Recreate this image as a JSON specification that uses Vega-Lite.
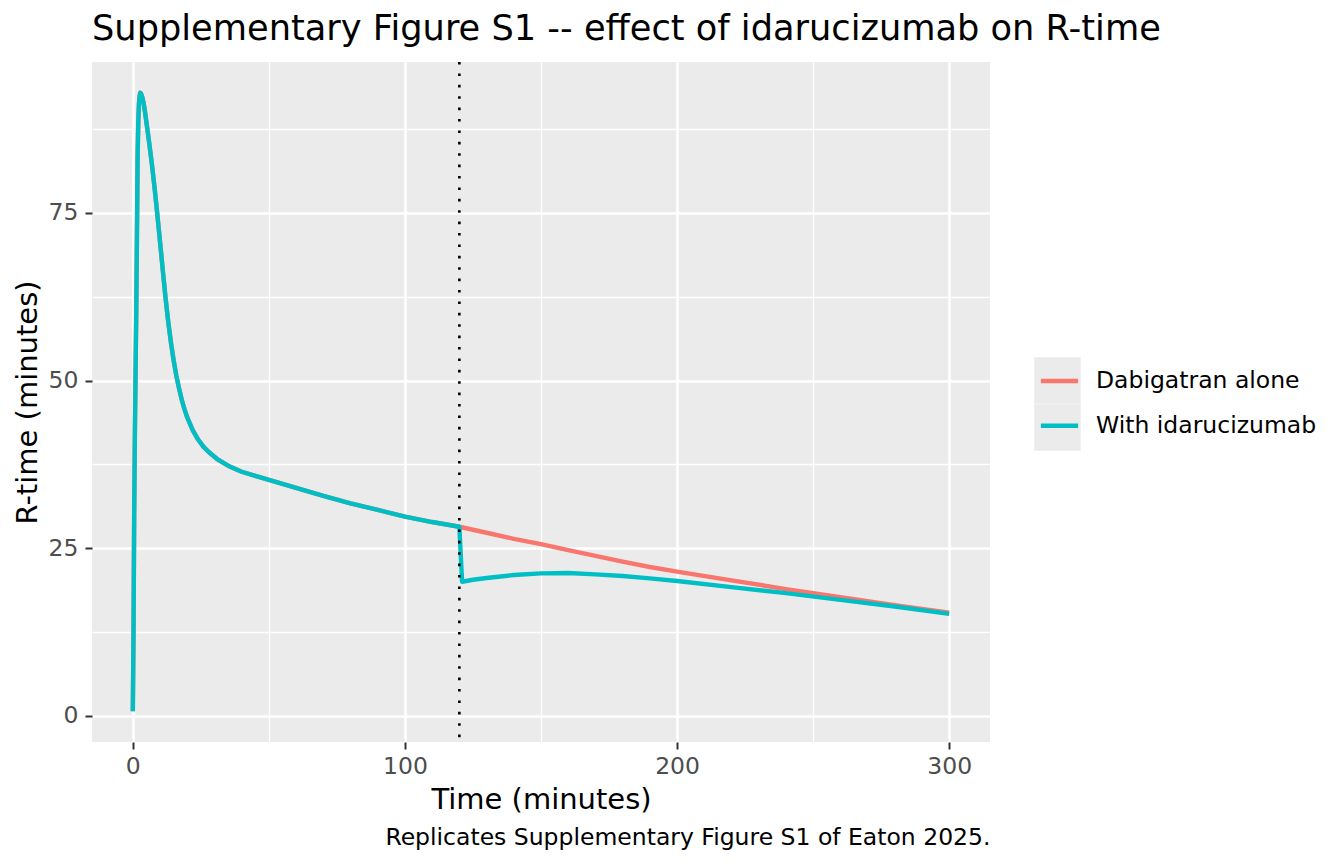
{
  "$schema": "https://vega.github.io/schema/vega-lite/v6.json",
  "width": 898,
  "height": 680,
  "autosize": "none",
  "padding": {"left": 92, "top": 62, "right": 354, "bottom": 122},
  "background": "white",
  "config": {
    "font": "DejaVu Sans",
    "view": {"fill": "#EBEBEB", "stroke": null}
  },
  "title": {
    "text": "Supplementary Figure S1 -- effect of idarucizumab on R-time",
    "anchor": "start",
    "frame": "group",
    "font": "DejaVu Sans",
    "fontSize": 35.2,
    "fontWeight": "normal",
    "color": "black",
    "baseline": "alphabetic",
    "offset": -14
  },
  "datasets": {
    "curves": [
      {"t": 0, "rtime": 0.7, "series": "Dabigatran alone"},
      {"t": 0.25, "rtime": 12, "series": "Dabigatran alone"},
      {"t": 0.5, "rtime": 30, "series": "Dabigatran alone"},
      {"t": 0.75, "rtime": 42, "series": "Dabigatran alone"},
      {"t": 1, "rtime": 51, "series": "Dabigatran alone"},
      {"t": 1.25, "rtime": 60, "series": "Dabigatran alone"},
      {"t": 1.5, "rtime": 71, "series": "Dabigatran alone"},
      {"t": 1.75, "rtime": 83, "series": "Dabigatran alone"},
      {"t": 2, "rtime": 88.5, "series": "Dabigatran alone"},
      {"t": 2.25, "rtime": 91.2, "series": "Dabigatran alone"},
      {"t": 2.5, "rtime": 92.4, "series": "Dabigatran alone"},
      {"t": 2.75, "rtime": 92.9, "series": "Dabigatran alone"},
      {"t": 3, "rtime": 92.8, "series": "Dabigatran alone"},
      {"t": 3.5, "rtime": 92.2, "series": "Dabigatran alone"},
      {"t": 4, "rtime": 91.3, "series": "Dabigatran alone"},
      {"t": 4.5, "rtime": 90.0, "series": "Dabigatran alone"},
      {"t": 5, "rtime": 88.5, "series": "Dabigatran alone"},
      {"t": 6, "rtime": 85.5, "series": "Dabigatran alone"},
      {"t": 7, "rtime": 82.3, "series": "Dabigatran alone"},
      {"t": 8, "rtime": 78.7, "series": "Dabigatran alone"},
      {"t": 9, "rtime": 74.8, "series": "Dabigatran alone"},
      {"t": 10, "rtime": 70.7, "series": "Dabigatran alone"},
      {"t": 11, "rtime": 66.5, "series": "Dabigatran alone"},
      {"t": 12, "rtime": 62.4, "series": "Dabigatran alone"},
      {"t": 13, "rtime": 58.8, "series": "Dabigatran alone"},
      {"t": 14, "rtime": 55.7, "series": "Dabigatran alone"},
      {"t": 15, "rtime": 53.0, "series": "Dabigatran alone"},
      {"t": 16, "rtime": 50.7, "series": "Dabigatran alone"},
      {"t": 17, "rtime": 48.8, "series": "Dabigatran alone"},
      {"t": 18, "rtime": 47.1, "series": "Dabigatran alone"},
      {"t": 19, "rtime": 45.7, "series": "Dabigatran alone"},
      {"t": 20, "rtime": 44.5, "series": "Dabigatran alone"},
      {"t": 22, "rtime": 42.6, "series": "Dabigatran alone"},
      {"t": 24, "rtime": 41.2, "series": "Dabigatran alone"},
      {"t": 26, "rtime": 40.1, "series": "Dabigatran alone"},
      {"t": 28, "rtime": 39.3, "series": "Dabigatran alone"},
      {"t": 31, "rtime": 38.3, "series": "Dabigatran alone"},
      {"t": 35, "rtime": 37.3, "series": "Dabigatran alone"},
      {"t": 40, "rtime": 36.4, "series": "Dabigatran alone"},
      {"t": 45, "rtime": 35.8, "series": "Dabigatran alone"},
      {"t": 50, "rtime": 35.2, "series": "Dabigatran alone"},
      {"t": 60, "rtime": 34.0, "series": "Dabigatran alone"},
      {"t": 70, "rtime": 32.8, "series": "Dabigatran alone"},
      {"t": 80, "rtime": 31.7, "series": "Dabigatran alone"},
      {"t": 90, "rtime": 30.7, "series": "Dabigatran alone"},
      {"t": 100, "rtime": 29.7, "series": "Dabigatran alone"},
      {"t": 110, "rtime": 28.9, "series": "Dabigatran alone"},
      {"t": 120, "rtime": 28.2, "series": "Dabigatran alone"},
      {"t": 130, "rtime": 27.3, "series": "Dabigatran alone"},
      {"t": 140, "rtime": 26.4, "series": "Dabigatran alone"},
      {"t": 150, "rtime": 25.6, "series": "Dabigatran alone"},
      {"t": 160, "rtime": 24.7, "series": "Dabigatran alone"},
      {"t": 170, "rtime": 23.85, "series": "Dabigatran alone"},
      {"t": 180, "rtime": 23.0, "series": "Dabigatran alone"},
      {"t": 190, "rtime": 22.2, "series": "Dabigatran alone"},
      {"t": 200, "rtime": 21.5, "series": "Dabigatran alone"},
      {"t": 220, "rtime": 20.2, "series": "Dabigatran alone"},
      {"t": 240, "rtime": 18.9, "series": "Dabigatran alone"},
      {"t": 260, "rtime": 17.7, "series": "Dabigatran alone"},
      {"t": 280, "rtime": 16.5, "series": "Dabigatran alone"},
      {"t": 300, "rtime": 15.4, "series": "Dabigatran alone"},
      {"t": 0, "rtime": 0.7, "series": "With idarucizumab"},
      {"t": 0.25, "rtime": 12, "series": "With idarucizumab"},
      {"t": 0.5, "rtime": 30, "series": "With idarucizumab"},
      {"t": 0.75, "rtime": 42, "series": "With idarucizumab"},
      {"t": 1, "rtime": 51, "series": "With idarucizumab"},
      {"t": 1.25, "rtime": 60, "series": "With idarucizumab"},
      {"t": 1.5, "rtime": 71, "series": "With idarucizumab"},
      {"t": 1.75, "rtime": 83, "series": "With idarucizumab"},
      {"t": 2, "rtime": 88.5, "series": "With idarucizumab"},
      {"t": 2.25, "rtime": 91.2, "series": "With idarucizumab"},
      {"t": 2.5, "rtime": 92.4, "series": "With idarucizumab"},
      {"t": 2.75, "rtime": 92.9, "series": "With idarucizumab"},
      {"t": 3, "rtime": 92.8, "series": "With idarucizumab"},
      {"t": 3.5, "rtime": 92.2, "series": "With idarucizumab"},
      {"t": 4, "rtime": 91.3, "series": "With idarucizumab"},
      {"t": 4.5, "rtime": 90.0, "series": "With idarucizumab"},
      {"t": 5, "rtime": 88.5, "series": "With idarucizumab"},
      {"t": 6, "rtime": 85.5, "series": "With idarucizumab"},
      {"t": 7, "rtime": 82.3, "series": "With idarucizumab"},
      {"t": 8, "rtime": 78.7, "series": "With idarucizumab"},
      {"t": 9, "rtime": 74.8, "series": "With idarucizumab"},
      {"t": 10, "rtime": 70.7, "series": "With idarucizumab"},
      {"t": 11, "rtime": 66.5, "series": "With idarucizumab"},
      {"t": 12, "rtime": 62.4, "series": "With idarucizumab"},
      {"t": 13, "rtime": 58.8, "series": "With idarucizumab"},
      {"t": 14, "rtime": 55.7, "series": "With idarucizumab"},
      {"t": 15, "rtime": 53.0, "series": "With idarucizumab"},
      {"t": 16, "rtime": 50.7, "series": "With idarucizumab"},
      {"t": 17, "rtime": 48.8, "series": "With idarucizumab"},
      {"t": 18, "rtime": 47.1, "series": "With idarucizumab"},
      {"t": 19, "rtime": 45.7, "series": "With idarucizumab"},
      {"t": 20, "rtime": 44.5, "series": "With idarucizumab"},
      {"t": 22, "rtime": 42.6, "series": "With idarucizumab"},
      {"t": 24, "rtime": 41.2, "series": "With idarucizumab"},
      {"t": 26, "rtime": 40.1, "series": "With idarucizumab"},
      {"t": 28, "rtime": 39.3, "series": "With idarucizumab"},
      {"t": 31, "rtime": 38.3, "series": "With idarucizumab"},
      {"t": 35, "rtime": 37.3, "series": "With idarucizumab"},
      {"t": 40, "rtime": 36.4, "series": "With idarucizumab"},
      {"t": 45, "rtime": 35.8, "series": "With idarucizumab"},
      {"t": 50, "rtime": 35.2, "series": "With idarucizumab"},
      {"t": 60, "rtime": 34.0, "series": "With idarucizumab"},
      {"t": 70, "rtime": 32.8, "series": "With idarucizumab"},
      {"t": 80, "rtime": 31.7, "series": "With idarucizumab"},
      {"t": 90, "rtime": 30.7, "series": "With idarucizumab"},
      {"t": 100, "rtime": 29.7, "series": "With idarucizumab"},
      {"t": 110, "rtime": 28.9, "series": "With idarucizumab"},
      {"t": 120, "rtime": 28.2, "series": "With idarucizumab"},
      {"t": 121, "rtime": 20.0, "series": "With idarucizumab"},
      {"t": 125, "rtime": 20.3, "series": "With idarucizumab"},
      {"t": 130, "rtime": 20.55, "series": "With idarucizumab"},
      {"t": 140, "rtime": 21.0, "series": "With idarucizumab"},
      {"t": 150, "rtime": 21.25, "series": "With idarucizumab"},
      {"t": 160, "rtime": 21.3, "series": "With idarucizumab"},
      {"t": 170, "rtime": 21.1, "series": "With idarucizumab"},
      {"t": 180, "rtime": 20.85, "series": "With idarucizumab"},
      {"t": 190, "rtime": 20.5, "series": "With idarucizumab"},
      {"t": 200, "rtime": 20.1, "series": "With idarucizumab"},
      {"t": 220, "rtime": 19.2, "series": "With idarucizumab"},
      {"t": 240, "rtime": 18.3, "series": "With idarucizumab"},
      {"t": 260, "rtime": 17.3, "series": "With idarucizumab"},
      {"t": 280, "rtime": 16.3, "series": "With idarucizumab"},
      {"t": 300, "rtime": 15.2, "series": "With idarucizumab"}
    ],
    "dose": [{"t": 120}]
  },
  "resolve": {"axis": {"x": "independent", "y": "independent"}},
  "layer": [
    {
      "data": {"name": "curves"},
      "mark": {"type": "point", "filled": true, "opacity": 0},
      "encoding": {
        "x": {"field": "t", "type": "quantitative", "scale": {"domain": [-15, 315], "nice": false, "zero": false}, "axis": null},
        "y": {"field": "rtime", "type": "quantitative", "scale": {"domain": [-3.9, 97.5], "nice": false, "zero": false}, "axis": null},
        "fill": {
          "field": "series",
          "type": "nominal",
          "scale": {"domain": ["Dabigatran alone", "With idarucizumab"], "range": ["#EBEBEB", "#EBEBEB"]},
          "legend": {
            "orient": "none",
            "legendX": 942,
            "legendY": 295,
            "title": null,
            "padding": 0,
            "symbolType": "square",
            "symbolSize": 2162,
            "symbolStrokeWidth": 0,
            "symbolOpacity": 1,
            "labelExpr": "''",
            "labelFontSize": 23.5,
            "labelOffset": 0,
            "rowPadding": 0,
            "zindex": 0
          }
        }
      }
    },
    {
      "data": {"name": "curves"},
      "mark": {"type": "line", "strokeWidth": 4.4, "strokeJoin": "round"},
      "encoding": {
        "x": {
          "field": "t",
          "type": "quantitative",
          "scale": {"domain": [-15, 315], "nice": false, "zero": false},
          "axis": {
            "orient": "bottom",
            "values": [0, 50, 100, 150, 200, 250, 300],
            "labelExpr": "datum.value % 100 === 0 ? '' + datum.value : ''",
            "grid": true,
            "gridColor": "white",
            "gridWidth": {"condition": {"test": "datum.value % 100 === 0", "value": 2.6}, "value": 1.3},
            "domain": false,
            "tickColor": "#333333",
            "tickWidth": 2,
            "tickSize": 7,
            "tickOpacity": {"condition": {"test": "datum.value % 100 === 0", "value": 1}, "value": 0},
            "labelFont": "DejaVu Sans",
            "labelFontSize": 23.5,
            "labelColor": "#4D4D4D",
            "labelPadding": 5.5,
            "title": "Time (minutes)",
            "titleFont": "DejaVu Sans",
            "titleFontSize": 29,
            "titleFontWeight": "normal",
            "titleColor": "black",
            "titleAlign": "center",
            "titleBaseline": "alphabetic",
            "titleX": 449,
            "titleY": 66
          }
        },
        "y": {
          "field": "rtime",
          "type": "quantitative",
          "scale": {"domain": [-3.9, 97.5], "nice": false, "zero": false},
          "axis": {
            "orient": "left",
            "values": [0, 12.5, 25, 37.5, 50, 62.5, 75, 87.5],
            "labelExpr": "datum.value % 25 === 0 ? '' + datum.value : ''",
            "grid": true,
            "gridColor": "white",
            "gridWidth": {"condition": {"test": "datum.value % 25 === 0", "value": 2.6}, "value": 1.3},
            "domain": false,
            "tickColor": "#333333",
            "tickWidth": 2,
            "tickSize": 7,
            "tickOpacity": {"condition": {"test": "datum.value % 25 === 0", "value": 1}, "value": 0},
            "labelFont": "DejaVu Sans",
            "labelFontSize": 23.5,
            "labelColor": "#4D4D4D",
            "labelPadding": 7,
            "title": "R-time (minutes)",
            "titleFont": "DejaVu Sans",
            "titleFontSize": 29,
            "titleFontWeight": "normal",
            "titleColor": "black",
            "titleAngle": 270,
            "titleAlign": "center",
            "titleBaseline": "alphabetic",
            "titleX": -56,
            "titleY": 340
          }
        },
        "stroke": {
          "field": "series",
          "type": "nominal",
          "scale": {"range": ["#F8766D", "#00BFC4"]},
          "legend": {
            "orient": "none",
            "legendX": 942,
            "legendY": 293.5,
            "title": null,
            "padding": 0,
            "symbolType": "M-0.8,0H0.8",
            "symbolSize": 2162,
            "symbolStrokeWidth": 4.4,
            "symbolFillColor": "transparent",
            "labelFont": "DejaVu Sans",
            "labelFontSize": 23.5,
            "labelColor": "black",
            "labelLimit": 500,
            "labelOffset": 11,
            "rowPadding": 7.7,
            "zindex": 1
          }
        }
      }
    },
    {
      "data": {"name": "dose"},
      "mark": {"type": "rule", "color": "black", "strokeWidth": 2.6, "strokeDash": [2.6, 8.8], "strokeCap": "butt"},
      "encoding": {
        "x": {
          "field": "t",
          "type": "quantitative",
          "scale": {"domain": [-15, 315], "nice": false, "zero": false},
          "axis": {
            "orient": "bottom",
            "labels": false,
            "ticks": false,
            "domain": false,
            "grid": false,
            "title": "Replicates Supplementary Figure S1 of Eaton 2025.",
            "titleFont": "DejaVu Sans",
            "titleFontSize": 23.5,
            "titleFontWeight": "normal",
            "titleColor": "black",
            "titleAlign": "right",
            "titleBaseline": "alphabetic",
            "titleX": 898,
            "titleY": 102
          }
        }
      }
    }
  ]
}
